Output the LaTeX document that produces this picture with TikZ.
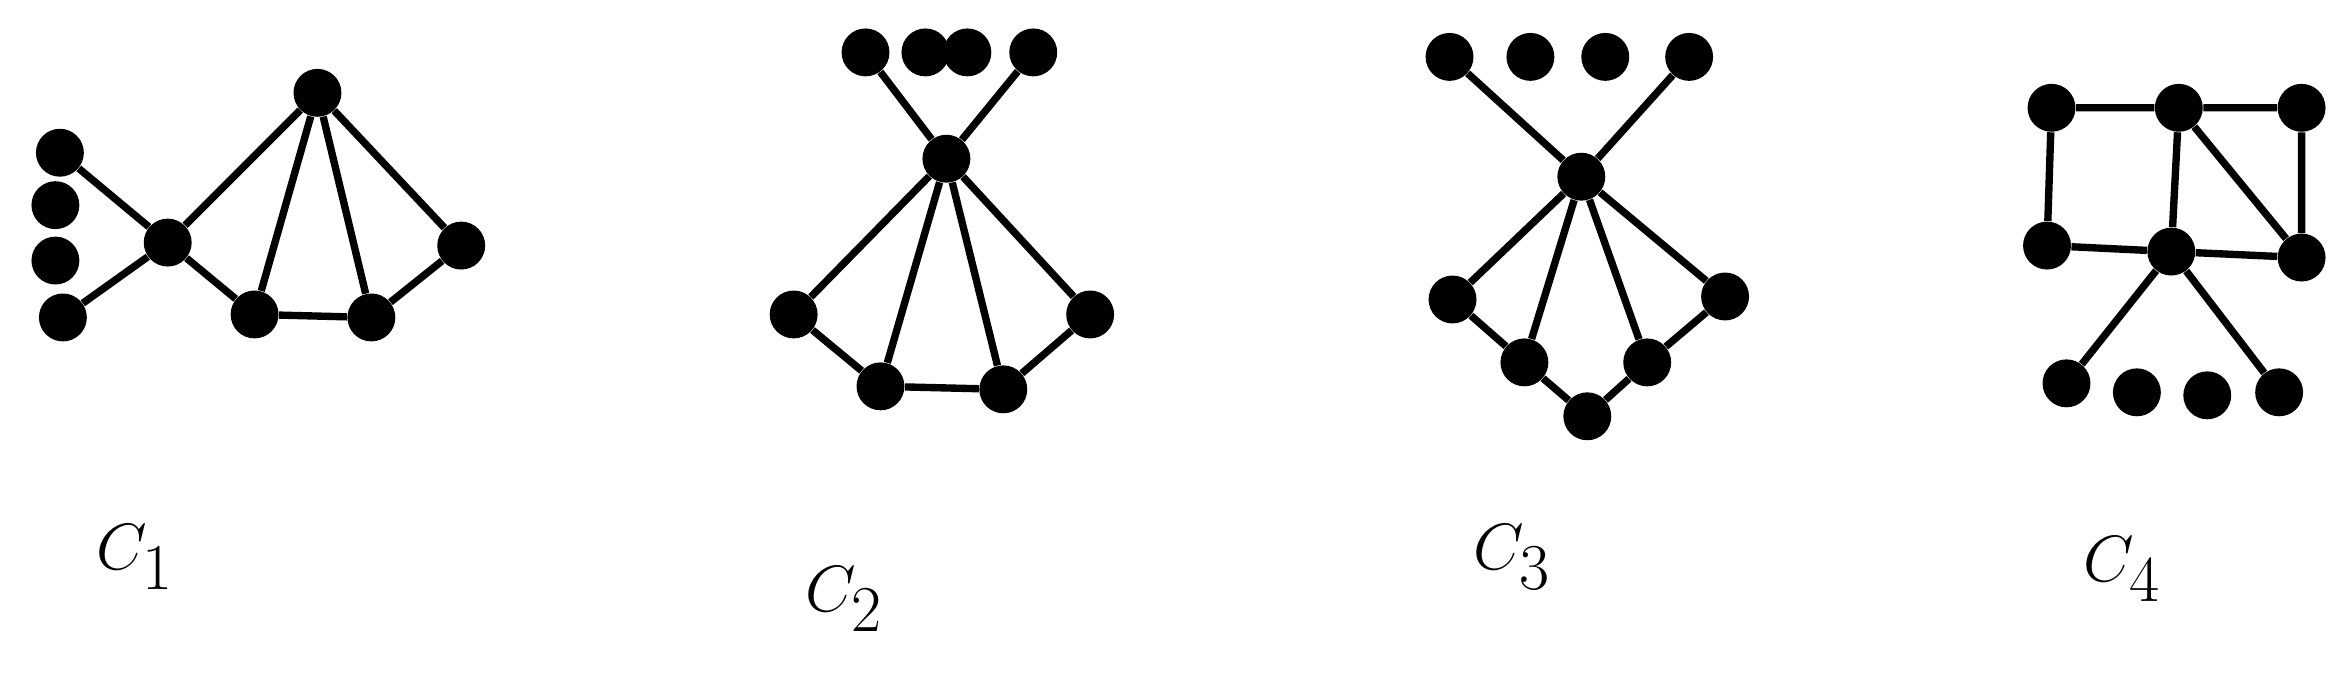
\documentclass[tikz,border=0pt]{standalone}
\begin{document}
\begin{tikzpicture}[x=0.02cm,y=-0.02cm,
  v/.style={circle,fill=black,inner sep=0pt,minimum size=0.64cm},
  e/.style={line width=2.8pt},
  lab/.style={font=\fontsize{40}{48}\selectfont}]
\useasboundingbox (0,0) rectangle (1568,449);
% C1
\node[v] (a1) at (40,102) {}; \node[v] (a2) at (37,137) {}; \node[v] (a3) at (37,174) {}; \node[v] (a4) at (42,212) {};
\node[v] (h) at (112,162) {}; \node[v] (t) at (212,62) {}; \node[v] (b1) at (170,210) {}; \node[v] (b2) at (248,212) {}; \node[v] (r) at (308,164) {};
\draw[e] (a1)--(h) (a4)--(h) (h)--(t) (h)--(b1) (t)--(b1) (t)--(b2) (t)--(r) (b1)--(b2) (b2)--(r);
% C2
\node[v] (p1) at (578,35) {}; \node[v] (p2) at (618,35) {}; \node[v] (p3) at (646,35) {}; \node[v] (p4) at (690,35) {};
\node[v] (pc) at (632,106) {}; \node[v] (pl) at (530,210) {}; \node[v] (pb1) at (588,258) {}; \node[v] (pb2) at (670,260) {}; \node[v] (pr) at (728,210) {};
\draw[e] (p1)--(pc) (p4)--(pc) (pc)--(pl) (pc)--(pb1) (pc)--(pb2) (pc)--(pr) (pl)--(pb1) (pb1)--(pb2) (pb2)--(pr);
% C3
\node[v] (q1) at (968,38) {}; \node[v] (q2) at (1022,38) {}; \node[v] (q3) at (1072,38) {}; \node[v] (q4) at (1128,38) {};
\node[v] (qc) at (1056,118) {}; \node[v] (ql) at (970,200) {}; \node[v] (ql2) at (1018,242) {}; \node[v] (qb) at (1060,278) {}; \node[v] (qr2) at (1100,242) {}; \node[v] (qr) at (1152,198) {};
\draw[e] (q1)--(qc) (q4)--(qc) (qc)--(ql) (qc)--(ql2) (qc)--(qr2) (qc)--(qr) (ql)--(ql2) (ql2)--(qb) (qb)--(qr2) (qr2)--(qr);
% C4
\node[v] (t1) at (1370,72) {}; \node[v] (t2) at (1455,72) {}; \node[v] (t3) at (1537,72) {};
\node[v] (m1) at (1367,164) {}; \node[v] (m2) at (1450,168) {}; \node[v] (m3) at (1537,172) {};
\node[v] (d1) at (1380,256) {}; \node[v] (d2) at (1427,262) {}; \node[v] (d3) at (1474,264) {}; \node[v] (d4) at (1522,262) {};
\draw[e] (t1)--(t2) (t2)--(t3) (t1)--(m1) (t2)--(m2) (t3)--(m3) (t2)--(m3) (m1)--(m2) (m2)--(m3) (m2)--(d1) (m2)--(d4);
% labels
\node[lab] (l1) at (90,372) {$C_1$};
\node[lab] (l2) at (564,400) {$C_2$};
\node[lab] (l3) at (1010,372) {$C_3$};
\node[lab] (l4) at (1417,380) {$C_4$};
\end{tikzpicture}
\end{document}
